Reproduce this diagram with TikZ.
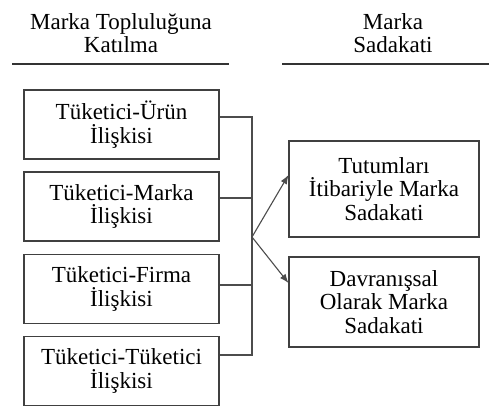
\documentclass[tikz,border=0pt]{standalone}
\usepackage{fontspec}
\setmainfont{Liberation Serif}
\usetikzlibrary{arrows.meta}
\begin{document}
\begin{tikzpicture}[x=1pt,y=-1pt,
  txt/.style={font=\fontsize{23}{23.5}\selectfont, align=center, text=black},
  lbox/.style={txt, draw=black!75, line width=1.1pt, minimum width=195pt, minimum height=69pt, inner sep=0pt},
  rbox/.style={txt, draw=black!75, line width=1.1pt, minimum width=190pt, inner sep=0pt},
  conn/.style={draw=black!70, line width=1.1pt},
  arr/.style={conn, -{Latex[length=9pt,width=7pt]}},
  rule/.style={draw=black!80, line width=1.1pt}]
\useasboundingbox (0,0) rectangle (489,407);
% headers
\node[txt] (h1) at (121,33) {Marka Topluluğuna\\Katılma};
\node[txt] (h2) at (393,33) {Marka\\Sadakati};
\coordinate (r1a) at (12,64);
\coordinate (r1b) at (229,64);
\coordinate (r2a) at (282,64);
\coordinate (r2b) at (489,64);
\draw[rule] (r1a) -- (r1b);
\draw[rule] (r2a) -- (r2b);
% left boxes
\node[lbox] (b1) at (121.5,124.5) {Tüketici-Ürün\\İlişkisi};
\node[lbox] (b2) at (121.5,206.5) {Tüketici-Marka\\İlişkisi};
\node[lbox] (b3) at (121.5,289) {Tüketici-Firma\\İlişkisi};
\node[lbox] (b4) at (121.5,371) {Tüketici-Tüketici\\İlişkisi};
% right boxes
\node[rbox, minimum height=96pt] (ra) at (384,189) {Tutumları\\İtibariyle Marka\\Sadakati};
\node[rbox, minimum height=90pt] (rb) at (384,302) {Davranışsal\\Olarak Marka\\Sadakati};
% connectors
\coordinate (top) at (252,117);
\coordinate (bot) at (252,355);
\coordinate (j) at (252,237);
\draw[conn] (b1.east |- top) -- (top) -- (bot) -- (b4.east |- bot);
\draw[conn] (b2.east |- 0,198) -- (j |- 0,198);
\draw[conn] (b3.east |- 0,285) -- (j |- 0,285);
\draw[arr] (j) -- (ra.west |- 0,175);
\draw[arr] (j) -- (rb.west |- 0,283);
\end{tikzpicture}
\end{document}
